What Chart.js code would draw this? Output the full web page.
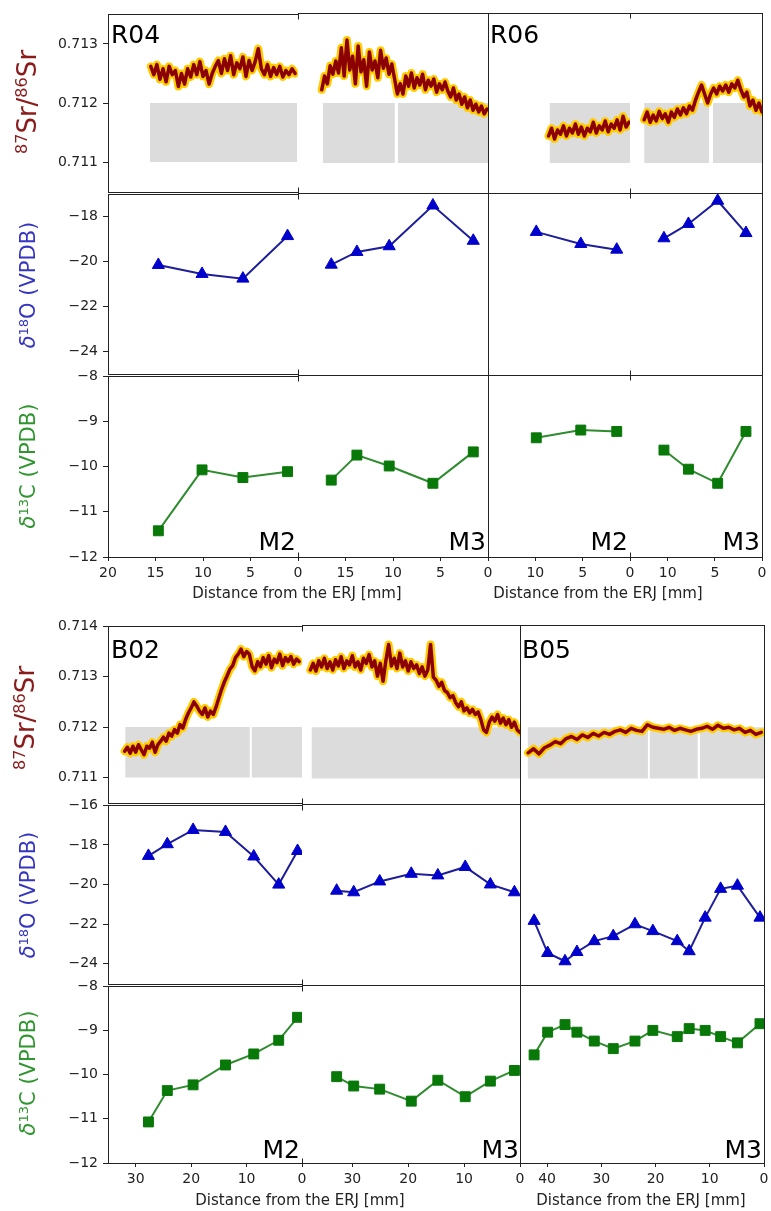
<!DOCTYPE html>
<html>
<head>
<meta charset="utf-8">
<script src="https://cdn.jsdelivr.net/npm/chart.js"></script>
<style>
  html, body { margin: 0; padding: 0; background: #fff; }
  body { width: 771px; height: 1211px; position: relative; overflow: hidden; font-family: "DejaVu Sans", sans-serif; }
  canvas { position: absolute; }
  .txt { position: absolute; white-space: nowrap; line-height: 1; }
  .sup { font-size: 0.62em; vertical-align: 0.6em; }
</style>
</head>
<body>
<script>
const FONT = '"DejaVu Sans", sans-serif';

// ---- tick labels ----
const srTicksTop = [0.711, 0.712, 0.713];
const srTicksBottom = [0.711, 0.712, 0.713, 0.714];
const o18TicksTop = [-18, -20, -22, -24];
const o18TicksBottom = [-16, -18, -20, -22, -24];
const c13Ticks = [-8, -9, -10, -11, -12];

const r04M2Ticks = [20, 15, 10, 5, 0];
const r04M3Ticks = [15, 10, 5, 0];
const r06M2Ticks = [10, 5, 0];
const r06M3Ticks = [10, 5, 0];
const b02M2Ticks = [30, 20, 10, 0];
const b02M3Ticks = [30, 20, 10, 0];
const b05M3Ticks = [40, 30, 20, 10, 0];

// gray boxes (enamel sections), 87Sr/86Sr range and x extents in mm
const srBoxTop = 0.712;
const srBoxBottom = 0.711;
const r04M2Boxes = [[15.6, 0.1]];
const r04M3Boxes = [[17.4, 9.8], [9.5, 0]];
const r06M2Boxes = [[8.5, 0]];
const r06M3Boxes = [[12.5, 5.6], [5.2, 0]];
const b02M2Boxes = [[31.9, 9.4], [9.1, 0]];
const b02M3Boxes = [[37.3, 0]];
const b05M3Boxes = [[43.6, 21.4], [21.1, 12.2], [11.8, 0]];

// ---- 87Sr/86Sr laser profiles: [first x, last x] and the readings along it ----
const r04M2SrX = [15.5, 0.3];
const r04M2Sr = [0.71262, 0.71248, 0.71265, 0.71240, 0.71258, 0.71236, 0.71262, 0.71248, 0.71255, 0.71228,
  0.71250, 0.71232, 0.71258, 0.71244, 0.71265, 0.71248, 0.71270, 0.71245, 0.71255, 0.71232,
  0.71250, 0.71262, 0.71272, 0.71250, 0.71275, 0.71255, 0.71280, 0.71248, 0.71268, 0.71258,
  0.71278, 0.71245, 0.71272, 0.71255, 0.71270, 0.71292, 0.71258, 0.71248, 0.71265, 0.71245,
  0.71260, 0.71248, 0.71262, 0.71244, 0.71255, 0.71248, 0.71258, 0.71250];

const r04M3SrX = [17.5, 0.1];
const r04M3Sr = [0.71222, 0.71245, 0.71232, 0.71262, 0.71248, 0.71270, 0.71250, 0.71292, 0.71245, 0.71305,
  0.71255, 0.71278, 0.71232, 0.71295, 0.71252, 0.71272, 0.71228, 0.71285, 0.71255, 0.71270,
  0.71242, 0.71288, 0.71258, 0.71275, 0.71248, 0.71265, 0.71240, 0.71215,
  0.71232, 0.71215, 0.71245, 0.71228, 0.71250, 0.71225, 0.71242, 0.71230, 0.71248, 0.71222,
  0.71238, 0.71228, 0.71240, 0.71218, 0.71232, 0.71222, 0.71235,
  0.71220, 0.71210, 0.71225, 0.71205, 0.71215, 0.71198, 0.71210, 0.71192, 0.71205, 0.71188,
  0.71198, 0.71185, 0.71195, 0.71182, 0.71190];

const r06M2SrX = [8.6, 0.1];
const r06M2Sr = [0.71145, 0.71158, 0.71140, 0.71155, 0.71148, 0.71162, 0.71145, 0.71158, 0.71150, 0.71165,
  0.71148, 0.71160, 0.71145, 0.71158, 0.71152, 0.71168, 0.71150, 0.71162, 0.71155, 0.71170,
  0.71152, 0.71165, 0.71158, 0.71172, 0.71155, 0.71178, 0.71160, 0.71168];

const r06M3SrX = [12.5, 0.0];
const r06M3Sr = [0.71172, 0.71185, 0.71168, 0.71180, 0.71170, 0.71186, 0.71174, 0.71182, 0.71168, 0.71185,
  0.71176, 0.71190, 0.71180, 0.71192, 0.71182, 0.71195, 0.71188, 0.71205, 0.71218, 0.71230,
  0.71215, 0.71200, 0.71215, 0.71225, 0.71215, 0.71228, 0.71220, 0.71230, 0.71218, 0.71232,
  0.71225, 0.71238, 0.71222, 0.71210, 0.71218, 0.71195, 0.71205, 0.71188, 0.71200, 0.71185];

const b02M2SrX = [32, 0.5];
const b02M2Sr = [0.71152, 0.71160, 0.71148, 0.71162, 0.71150, 0.71165, 0.71155, 0.71145, 0.71162, 0.71158,
  0.71170, 0.71150, 0.71165, 0.71172, 0.71180, 0.71172, 0.71188, 0.71182, 0.71195, 0.71188,
  0.71205, 0.71198, 0.71215, 0.71228, 0.71238, 0.71250, 0.71242, 0.71232, 0.71225, 0.71238,
  0.71220, 0.71232, 0.71225, 0.71240, 0.71258, 0.71275, 0.71290, 0.71302, 0.71315, 0.71322,
  0.71338, 0.71345, 0.71355, 0.71340, 0.71350, 0.71345, 0.71320, 0.71312, 0.71330, 0.71320,
  0.71338, 0.71325, 0.71342, 0.71318, 0.71335, 0.71328, 0.71345, 0.71322, 0.71338, 0.71330,
  0.71340, 0.71325, 0.71335, 0.71330];

const b02M3SrX = [37.5, 0];
const b02M3Sr = [0.71312, 0.71325, 0.71310, 0.71330, 0.71318, 0.71335, 0.71315, 0.71328, 0.71312, 0.71332,
  0.71320, 0.71338, 0.71315, 0.71330, 0.71322, 0.71340, 0.71318, 0.71328, 0.71312, 0.71335,
  0.71325, 0.71342, 0.71318, 0.71330, 0.71300, 0.71325, 0.71290, 0.71330, 0.71362, 0.71320,
  0.71335, 0.71315, 0.71345, 0.71318, 0.71330, 0.71310, 0.71328, 0.71315, 0.71322, 0.71305,
  0.71318, 0.71300, 0.71312, 0.71362, 0.71298, 0.71292, 0.71280, 0.71288, 0.71272, 0.71268,
  0.71258, 0.71262, 0.71248, 0.71240, 0.71250, 0.71232, 0.71238, 0.71228, 0.71235, 0.71225,
  0.71230, 0.71215, 0.71195, 0.71190, 0.71210, 0.71220, 0.71212, 0.71225, 0.71208, 0.71218,
  0.71205, 0.71215, 0.71200, 0.71210, 0.71195, 0.71190];

const b05M3SrX = [43.5, 0.5];
const b05M3Sr = [0.71150, 0.71158, 0.71148, 0.71160, 0.71165, 0.71172, 0.71168, 0.71178, 0.71182, 0.71176,
  0.71185, 0.71180, 0.71188, 0.71183, 0.71190, 0.71186, 0.71192, 0.71195, 0.71190, 0.71198,
  0.71194, 0.71192, 0.71205, 0.71200, 0.71198, 0.71196, 0.71200, 0.71194, 0.71198, 0.71195,
  0.71192, 0.71196, 0.71198, 0.71202, 0.71196, 0.71204, 0.71198, 0.71200, 0.71195, 0.71198,
  0.71190, 0.71194, 0.71186, 0.71190];

// ---- drilled samples: distance (mm), d18O and d13C ----
const r04M2Dist = [14.7, 10.1, 5.8, 1.1];
const r04M2O18 = [-20.15, -20.55, -20.76, -18.86];
const r04M2C13 = [-11.42, -10.07, -10.24, -10.11];

const r04M3Dist = [16.5, 13.8, 10.4, 5.8, 1.55];
const r04M3O18 = [-20.15, -19.59, -19.34, -17.55, -19.1];
const r04M3C13 = [-10.31, -9.76, -10.0, -10.38, -9.69];

const r06M2Dist = [9.9, 5.2, 1.4];
const r06M2O18 = [-18.71, -19.24, -19.49];
const r06M2C13 = [-9.38, -9.21, -9.24];

const r06M3Dist = [10.4, 7.8, 4.7, 1.7];
const r06M3O18 = [-18.99, -18.36, -17.34, -18.76];
const r06M3C13 = [-9.65, -10.07, -10.38, -9.24];

const b02M2Dist = [27.7, 24.3, 19.65, 13.8, 8.7, 4.2, 0.8];
const b02M2O18 = [-18.55, -17.96, -17.24, -17.34, -18.58, -20.0, -18.3];
const b02M2C13 = [-11.07, -10.36, -10.23, -9.78, -9.53, -9.22, -8.70];

const b02M3Dist = [32.8, 29.75, 25.1, 19.45, 14.7, 9.8, 5.3, 1.0];
const b02M3O18 = [-20.31, -20.39, -19.85, -19.47, -19.55, -19.13, -20.0, -20.39];
const b02M3C13 = [-10.06, -10.27, -10.34, -10.61, -10.14, -10.51, -10.16, -9.92];

const b05M3Dist = [42.4, 39.9, 36.7, 34.5, 31.3, 27.8, 23.8, 20.5, 16.0, 13.8, 10.85, 8.0, 4.9, 0.74];
const b05M3O18 = [-21.81, -23.41, -23.82, -23.36, -22.82, -22.57, -21.98, -22.32, -22.82, -23.32, -21.65, -20.22, -20.06, -21.65];
const b05M3C13 = [-9.57, -9.06, -8.89, -9.06, -9.26, -9.43, -9.26, -9.02, -9.16, -8.98, -9.02, -9.16, -9.30, -8.87];


// spines drawn around the plot area, plus the small marks where two teeth meet
const framePlugin = {
  id: 'frame',
  afterDraw(chart, args, o) {
    const a = chart.chartArea;
    const ctx = chart.ctx;
    const L = Math.round(a.left) + 0.5, R = Math.round(a.right) + 0.5;
    const T = Math.round(a.top) + 0.5, B = Math.round(a.bottom) + 0.5;
    ctx.save();
    ctx.strokeStyle = '#222';
    ctx.lineWidth = 1;
    ctx.beginPath();
    if (o.sides.includes('t')) { ctx.moveTo(L - 0.5, T); ctx.lineTo(R + 0.5, T); }
    if (o.sides.includes('b')) { ctx.moveTo(L - 0.5, B); ctx.lineTo(R + 0.5, B); }
    if (o.sides.includes('l')) { ctx.moveTo(L, T); ctx.lineTo(L, B); }
    if (o.sides.includes('r')) { ctx.moveTo(R, T); ctx.lineTo(R, B); }
    if (o.mark) {
      ctx.moveTo(R, T); ctx.lineTo(R, T + 5);
      ctx.moveTo(R, B); ctx.lineTo(R, B - 5);
    }
    ctx.stroke();
    ctx.restore();
  }
};


function fmtSr(v) {
  return v.toFixed(3);
}

function fmtDelta(v) {
  return v < 0 ? '\u2212' + Math.abs(v) : String(v);
}


function srSets(boxes, xr, ys) {
  let sets = [];
  let n = ys.length;
  let along = (y, i) => ({ x: xr[0] + (xr[1] - xr[0]) * i / (n - 1), y: y });
  sets.push({ data: ys.map(along), borderColor: '#8b0000', borderWidth: 3.5, borderJoinStyle: 'round', borderCapStyle: 'round', pointRadius: 0, tension: 0, order: 0 });
  sets.push({ data: ys.map(along), borderColor: '#ffcc00', borderWidth: 8, borderJoinStyle: 'round', borderCapStyle: 'round', pointRadius: 0, tension: 0, order: 1 });
  boxes.forEach(bx => {
    sets.push({
      data: [{ x: bx[0], y: srBoxTop }, { x: bx[1], y: srBoxTop }],
      fill: { value: srBoxBottom },
      backgroundColor: '#dcdcdc',
      borderColor: 'rgba(0,0,0,0)',
      borderWidth: 0,
      pointRadius: 0,
      order: 2
    });
  });
  return sets;
}

function o18Set(xs, ys) {
  return {
    data: xs.map((x, i) => ({ x: x, y: ys[i] })),
    borderColor: '#1e1e98',
    borderWidth: 2,
    tension: 0,
    pointStyle: 'triangle',
    pointRadius: 7,
    pointBackgroundColor: '#0000cc',
    pointBorderColor: '#0000cc',
    pointBorderWidth: 1
  };
}

function c13Set(xs, ys) {
  return {
    data: xs.map((x, i) => ({ x: x, y: ys[i] })),
    borderColor: '#2e8b2e',
    borderWidth: 2,
    tension: 0,
    pointStyle: 'rect',
    pointRadius: 7,
    pointBackgroundColor: '#087808',
    pointBorderColor: '#087808',
    pointBorderWidth: 1
  };
}


function addCell(l, t, r, b, o) {
  let padL = o.yTicks ? l : 14;
  let padT = 12, padR = 12;
  let padB = o.xTicks ? 46 : 12;
  let w = r - l + padL + padR;
  let h = b - t + padT + padB;

  let cv = document.createElement('canvas');
  cv.width = w;
  cv.height = h;
  cv.style.left = (l - padL) + 'px';
  cv.style.top = (t - padT) + 'px';
  cv.style.width = w + 'px';
  cv.style.height = h + 'px';
  document.body.appendChild(cv);

  new Chart(cv, {
    type: 'line',
    data: { datasets: o.datasets },
    options: {
      responsive: false,
      animation: false,
      devicePixelRatio: 1,
      layout: { padding: { left: o.yTicks ? 0 : padL, top: padT, right: padR, bottom: o.xTicks ? 0 : padB } },
      plugins: {
        legend: { display: false },
        tooltip: { enabled: false },
        frame: { sides: o.sides, mark: o.mark }
      },
      scales: {
        x: {
          type: 'linear',
          min: 0,
          max: o.xMax,
          reverse: true,
          display: !!o.xTicks,
          afterBuildTicks: s => { if (o.xTicks) s.ticks = o.xTicks.map(v => ({ value: v })); },
          afterFit: s => { if (o.xTicks) s.height = padB; },
          grid: { drawOnChartArea: false, drawTicks: true, tickLength: 4, color: '#222' },
          border: { display: false },
          ticks: { font: { family: FONT, size: 14 }, color: '#222', padding: 4, autoSkip: false, maxRotation: 0 }
        },
        y: {
          type: 'linear',
          min: o.yMin,
          max: o.yMax,
          display: !!o.yTicks,
          afterBuildTicks: s => { if (o.yTicks) s.ticks = o.yTicks.map(v => ({ value: v })); },
          afterFit: s => { if (o.yTicks) s.width = l; },
          grid: { drawOnChartArea: false, drawTicks: true, tickLength: 5, color: '#222' },
          border: { display: false },
          ticks: { font: { family: FONT, size: 14 }, color: '#222', padding: 5, autoSkip: false, callback: o.fmt }
        }
      }
    },
    plugins: [framePlugin]
  });
}


function buildFigure(cols, rows) {
  rows.forEach((row, ri) => {
    cols.forEach((col, ci) => {
      let datasets;
      if (row.kind === 'sr') datasets = srSets(col.boxes, col.srX, col.sr);
      else if (row.kind === 'o18') datasets = [o18Set(col.dist, col.o18)];
      else datasets = [c13Set(col.dist, col.c13)];
      addCell(col.l, row.t, col.r, row.b, {
        yTicks: ci === 0 ? row.ticks : null,
        xTicks: ri === rows.length - 1 ? col.ticks : null,
        xMax: col.xMax,
        yMin: row.min,
        yMax: row.max,
        fmt: row.fmt,
        sides: col.sides,
        mark: col.mark,
        datasets: datasets
      });
    });
  });
}


// ---- top figure: R04 and R06 ----
buildFigure([
  { l: 108, r: 298, xMax: 20, ticks: r04M2Ticks, sides: 'ltb', mark: true, boxes: r04M2Boxes, srX: r04M2SrX, sr: r04M2Sr, dist: r04M2Dist, o18: r04M2O18, c13: r04M2C13 },
  { l: 298, r: 488, xMax: 20, ticks: r04M3Ticks, sides: 'trb', mark: false, boxes: r04M3Boxes, srX: r04M3SrX, sr: r04M3Sr, dist: r04M3Dist, o18: r04M3O18, c13: r04M3C13 },
  { l: 488, r: 630, xMax: 15, ticks: r06M2Ticks, sides: 'ltb', mark: true, boxes: r06M2Boxes, srX: r06M2SrX, sr: r06M2Sr, dist: r06M2Dist, o18: r06M2O18, c13: r06M2C13 },
  { l: 630, r: 762, xMax: 14, ticks: r06M3Ticks, sides: 'trb', mark: false, boxes: r06M3Boxes, srX: r06M3SrX, sr: r06M3Sr, dist: r06M3Dist, o18: r06M3O18, c13: r06M3C13 }
], [
  { kind: 'sr', t: 13, b: 193, min: 0.7105, max: 0.7135, ticks: srTicksTop, fmt: fmtSr },
  { kind: 'o18', t: 193, b: 375, min: -25, max: -17, ticks: o18TicksTop, fmt: fmtDelta },
  { kind: 'c13', t: 375, b: 557, min: -12, max: -8, ticks: c13Ticks, fmt: fmtDelta }
]);

// ---- bottom figure: B02 and B05 ----
buildFigure([
  { l: 108, r: 302, xMax: 35, ticks: b02M2Ticks, sides: 'ltb', mark: true, boxes: b02M2Boxes, srX: b02M2SrX, sr: b02M2Sr, dist: b02M2Dist, o18: b02M2O18, c13: b02M2C13 },
  { l: 302, r: 520, xMax: 39, ticks: b02M3Ticks, sides: 'trb', mark: false, boxes: b02M3Boxes, srX: b02M3SrX, sr: b02M3Sr, dist: b02M3Dist, o18: b02M3O18, c13: b02M3C13 },
  { l: 520, r: 764, xMax: 45, ticks: b05M3Ticks, sides: 'ltrb', mark: false, boxes: b05M3Boxes, srX: b05M3SrX, sr: b05M3Sr, dist: b05M3Dist, o18: b05M3O18, c13: b05M3C13 }
], [
  { kind: 'sr', t: 625, b: 804, min: 0.7105, max: 0.714, ticks: srTicksBottom, fmt: fmtSr },
  { kind: 'o18', t: 804, b: 985, min: -25, max: -16, ticks: o18TicksBottom, fmt: fmtDelta },
  { kind: 'c13', t: 985, b: 1163, min: -12, max: -8, ticks: c13Ticks, fmt: fmtDelta }
]);


// ---- text ----
function addText(html, x, baseline, size, color, anchor) {
  let d = document.createElement('div');
  d.className = 'txt';
  d.innerHTML = html;
  d.style.fontSize = size + 'px';
  d.style.color = color;
  d.style.left = x + 'px';
  d.style.top = (baseline - 0.846 * size) + 'px';
  if (anchor === 'right') d.style.transform = 'translateX(-100%)';
  if (anchor === 'center') d.style.transform = 'translateX(-50%)';
  document.body.appendChild(d);
}

function addVText(html, cx, cy, size, color) {
  let d = document.createElement('div');
  d.className = 'txt';
  d.innerHTML = html;
  d.style.fontSize = size + 'px';
  d.style.color = color;
  d.style.left = cx + 'px';
  d.style.top = cy + 'px';
  d.style.transform = 'translate(-50%, -50%) rotate(-90deg)';
  document.body.appendChild(d);
}

const srTitle = '<span class="sup">87</span>Sr/<span class="sup">86</span>Sr';
const o18Title = '<i>\u03b4</i><span class="sup">18</span>O (VPDB)';
const c13Title = '<i>\u03b4</i><span class="sup">13</span>C (VPDB)';
const xTitle = 'Distance from the ERJ [mm]';

addVText(srTitle, 27, 102, 26, '#8b1a1a');
addVText(o18Title, 28, 285, 21, '#3535c0');
addVText(c13Title, 28, 466, 21, '#2f962f');
addVText(srTitle, 25, 718, 26, '#8b1a1a');
addVText(o18Title, 28, 895, 21, '#3535c0');
addVText(c13Title, 28, 1073, 21, '#2f962f');

addText('R04', 111, 43, 25, '#000', 'left');
addText('R06', 490, 43, 25, '#000', 'left');
addText('M2', 296, 550, 25, '#000', 'right');
addText('M3', 486, 550, 25, '#000', 'right');
addText('M2', 628, 550, 25, '#000', 'right');
addText('M3', 760, 550, 25, '#000', 'right');
addText(xTitle, 297, 599, 15, '#222', 'center');
addText(xTitle, 598, 599, 15, '#222', 'center');

addText('B02', 111, 658, 25, '#000', 'left');
addText('B05', 522, 658, 25, '#000', 'left');
addText('M2', 300, 1158, 25, '#000', 'right');
addText('M3', 519, 1158, 25, '#000', 'right');
addText('M3', 762, 1158, 25, '#000', 'right');
addText(xTitle, 300, 1206, 15, '#222', 'center');
addText(xTitle, 641, 1206, 15, '#222', 'center');
</script>
</body>
</html>
